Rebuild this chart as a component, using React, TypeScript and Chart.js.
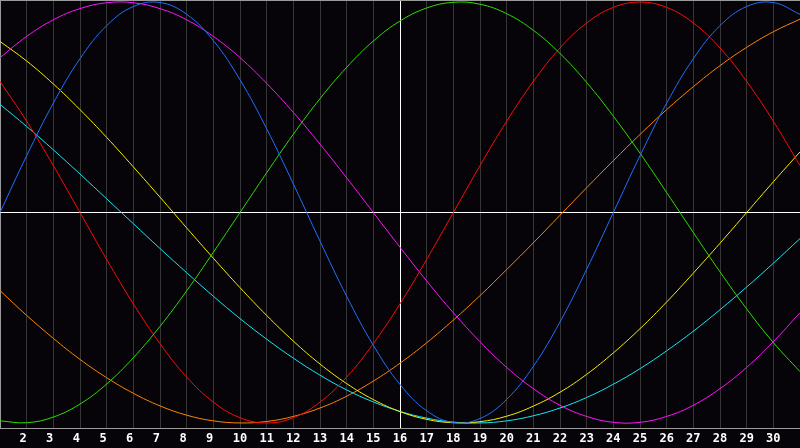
import React, { useEffect, useRef } from "react";
import { Chart, registerables } from "chart.js";

Chart.register(...registerables);

// Days of the month shown on the x axis
const days = [
  1, 2, 3, 4, 5, 6, 7, 8, 9, 10, 11, 12, 13, 14, 15, 16, 17, 18, 19, 20,
  21, 22, 23, 24, 25, 26, 27, 28, 29, 30, 31,
];
const labeledDays = [
  2, 3, 4, 5, 6, 7, 8, 9, 10, 11, 12, 13, 14, 15, 16, 17, 18, 19, 20, 21,
  22, 23, 24, 25, 26, 27, 28, 29, 30,
];
const markedDay = 16;

// Cycle values (-100 .. 100) read per day
const blueValues = [
  0, 27.0, 52.0, 73.1, 88.8, 97.9, 99.8, 94.2, 81.7, 63.1, 39.8, 13.6, -13.6,
  -39.8, -63.1, -81.7, -94.2, -99.8, -97.9, -88.8, -73.1, -52.0, -27.0, 0,
  27.0, 52.0, 73.1, 88.8, 97.9, 99.8, 94.2,
];
const greenValues = [
  -99.0, -99.9, -97.2, -91.0, -81.5, -69.0, -54.1, -37.2, -18.9, 0, 18.9,
  37.2, 54.1, 69.0, 81.5, 91.0, 97.2, 99.9, 99.0, 94.5, 86.6, 75.6, 61.8,
  45.8, 28.2, 9.5, -9.5, -28.2, -45.8, -61.8, -75.6,
];
const redValues = [
  62.3, 43.4, 22.3, 0, -22.3, -43.4, -62.3, -78.2, -90.1, -97.5, -100, -97.5,
  -90.1, -78.2, -62.3, -43.4, -22.3, 0, 22.3, 43.4, 62.3, 78.2, 90.1, 97.5,
  100, 97.5, 90.1, 78.2, 62.3, 43.4, 22.3,
];
const magentaValues = [
  73.6, 83.7, 91.6, 96.9, 99.7, 99.7, 96.9, 91.6, 83.7, 73.6, 61.4, 47.6,
  32.5, 16.5, 0, -16.5, -32.5, -47.6, -61.4, -73.6, -83.7, -91.6, -96.9,
  -99.7, -99.7, -96.9, -91.6, -83.7, -73.6, -61.4, -47.6,
];
const yellowValues = [
  81.3, 72.0, 61.1, 48.9, 35.7, 21.7, 7.3, -7.3, -21.7, -35.7, -48.9, -61.1,
  -72.0, -81.3, -88.9, -94.6, -98.3, -99.9, -99.4, -96.8, -92.0, -85.4,
  -76.9, -66.7, -55.2, -42.5, -28.8, -14.6, 0, 14.6, 28.8,
];
const cyanValues = [
  51.4, 40.9, 29.8, 18.3, 6.5, -5.3, -17.1, -28.6, -39.8, -50.4, -60.2,
  -69.2, -77.3, -84.3, -90.0, -94.5, -97.7, -99.6, -100.0, -99.0, -96.6,
  -92.9, -87.9, -81.6, -74.2, -65.7, -56.4, -46.2, -35.4, -24.1, -12.4,
];
const orangeValues = [
  -37.1, -48.9, -59.8, -69.8, -78.5, -85.9, -91.9, -96.3, -99.0, -100.0,
  -99.3, -96.9, -92.9, -87.3, -80.1, -71.6, -61.9, -51.1, -39.5, -27.1,
  -14.4, -1.3, 11.8, 24.6, 37.1, 48.9, 59.8, 69.8, 78.5, 85.9, 91.9,
];

const seriesList = [
  { name: "blue", values: blueValues, color: "#1f6fff" },
  { name: "green", values: greenValues, color: "#2ae000" },
  { name: "red", values: redValues, color: "#ff0a0a" },
  { name: "magenta", values: magentaValues, color: "#ff14ff" },
  { name: "yellow", values: yellowValues, color: "#f6f000" },
  { name: "cyan", values: cyanValues, color: "#12e6f2" },
  { name: "orange", values: orangeValues, color: "#ff8400" },
];

const Y_MIN = -102.4;
const Y_MAX = 101;
const BG = "#060409";
const GRID = "#363636";
const FRAME = "#9a9a9a";

export default function App() {
  const canvasRef = useRef<HTMLCanvasElement | null>(null);

  useEffect(() => {
    document.body.style.margin = "0";
    document.body.style.background = BG;
    const canvas = canvasRef.current;
    if (!canvas) return;

    const bgPlugin = {
      id: "bgFill",
      beforeDraw(chart: any) {
        const { ctx, width, height } = chart;
        ctx.save();
        ctx.fillStyle = BG;
        ctx.fillRect(0, 0, width, height);
        ctx.restore();
      },
    };

    const chart = new Chart(canvas, {
      type: "line",
      data: {
        datasets: seriesList.map((s) => ({
          label: s.name,
          data: days.map((d, i) => ({ x: d, y: s.values[i] })),
          borderColor: s.color,
          borderWidth: 1,
          pointRadius: 0,
          pointHoverRadius: 0,
          pointHitRadius: 0,
          tension: 0.4,
          fill: false,
        })),
      },
      options: {
        animation: false,
        responsive: false,
        maintainAspectRatio: false,
        events: [],
        layout: { padding: 0, autoPadding: false },
        plugins: {
          legend: { display: false },
          tooltip: { enabled: false },
          title: { display: false },
        },
        scales: {
          x: {
            type: "linear",
            min: days[0],
            max: days[days.length - 1],
            afterFit: (scale: any) => {
              scale.height = 20;
              scale.paddingLeft = 0;
              scale.paddingRight = 0;
            },
            ticks: {
              stepSize: 1,
              autoSkip: false,
              maxRotation: 0,
              color: "#ffffff",
              padding: 4,
              font: { family: "DejaVu Sans Mono", size: 12, weight: "bold" },
              callback: (v: any) => {
                const n = Number(v);
                if (!labeledDays.includes(n)) return "";
                return n < 10 ? n + " " : String(n);
              },
            },
            grid: {
              drawTicks: false,
              lineWidth: 1,
              color: (ctx: any) => {
                const v = ctx.tick ? ctx.tick.value : null;
                if (v === markedDay) return "#ffffff";
                if (v === days[0] || v === days[days.length - 1]) return FRAME;
                return GRID;
              },
            },
            border: { display: true, color: FRAME, width: 1 },
          },
          y: {
            type: "linear",
            min: Y_MIN,
            max: Y_MAX,
            afterFit: (scale: any) => {
              scale.width = 0;
              scale.paddingTop = 0;
              scale.paddingBottom = 0;
            },
            afterBuildTicks: (scale: any) => {
              scale.ticks = [{ value: Y_MIN }, { value: 0 }, { value: Y_MAX }];
            },
            ticks: { display: false },
            grid: {
              drawTicks: false,
              lineWidth: 1,
              color: (ctx: any) => {
                const v = ctx.tick ? ctx.tick.value : null;
                return v === 0 ? "#ffffff" : FRAME;
              },
            },
            border: { display: false },
          },
        },
      },
      plugins: [bgPlugin],
    } as any);

    return () => {
      chart.destroy();
    };
  }, []);

  return (
    <div style={{ width: 800, height: 448, background: BG }}>
      <canvas ref={canvasRef} width={800} height={448} style={{ display: "block" }} />
    </div>
  );
}
